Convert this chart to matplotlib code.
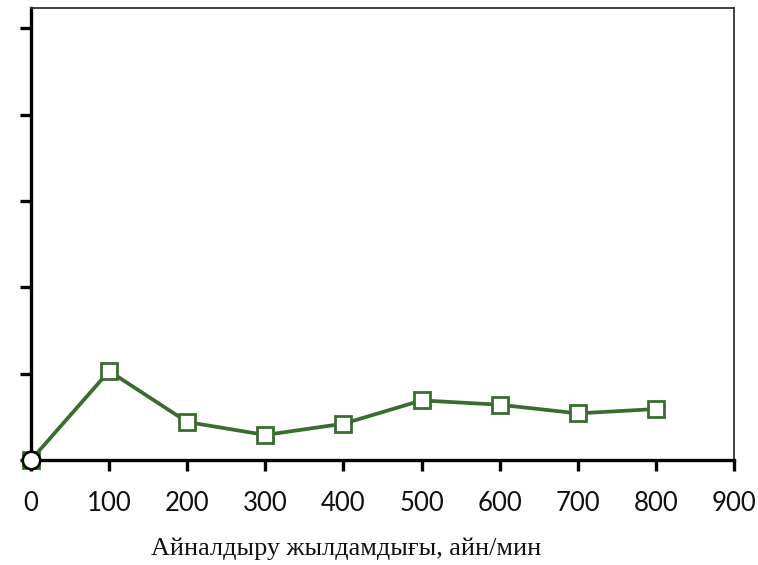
import matplotlib
matplotlib.use('Agg')
from matplotlib import pyplot as plt

# rotation speed, rpm
speed = [0, 100, 200, 300, 400, 500, 600, 700, 800]
# measured response at each speed
response = [0.0, 1.03, 0.44, 0.29, 0.42, 0.69, 0.64, 0.54, 0.59]
# control point at the origin
control_x = [0]
control_y = [0.0]

x_ticks = [0, 100, 200, 300, 400, 500, 600, 700, 800, 900]
y_ticks = [0, 1, 2, 3, 4, 5]
x_label = 'Айналдыру жылдамдығы, айн/мин'

green = '#3a6b30'

fig = plt.figure(figsize=(7.58, 5.65), dpi=100)
ax = fig.add_axes([31/758, 1 - 460/565, (734 - 31)/758, (460 - 7.5)/565])

ax.plot(speed, response, color=green, linewidth=2.7, marker='s',
        markersize=11.5, markerfacecolor='white', markeredgecolor=green,
        markeredgewidth=2.0, zorder=3, clip_on=False)
ax.plot(control_x, control_y, linestyle='none', marker='o', markersize=12.5,
        markerfacecolor='white', markeredgecolor='black',
        markeredgewidth=1.8, zorder=4, clip_on=False)

ax.set_xlim(0, 900)
ax.set_ylim(0, 5.24)
ax.set_xticks(x_ticks)
ax.set_yticks(y_ticks)
ax.set_yticklabels([])
ax.set_xticklabels([str(t) for t in x_ticks], family='Lato', fontsize=18.5)

for side in ['left', 'bottom']:
  ax.spines[side].set_linewidth(2.4)
  ax.spines[side].set_color('black')
for side in ['top', 'right']:
  ax.spines[side].set_linewidth(1.3)
  ax.spines[side].set_color('#333333')

ax.tick_params(axis='x', direction='out', length=8, width=2.4, pad=14,
               color='black', labelcolor='#111111')
ax.tick_params(axis='y', direction='out', length=8, width=2.4, color='black')

fig.text(346/758, 1 - 549/565, x_label, family='Liberation Serif',
         fontsize=18.8, ha='center', va='center', color='#111111')

fig.savefig('out.png', dpi=100)
